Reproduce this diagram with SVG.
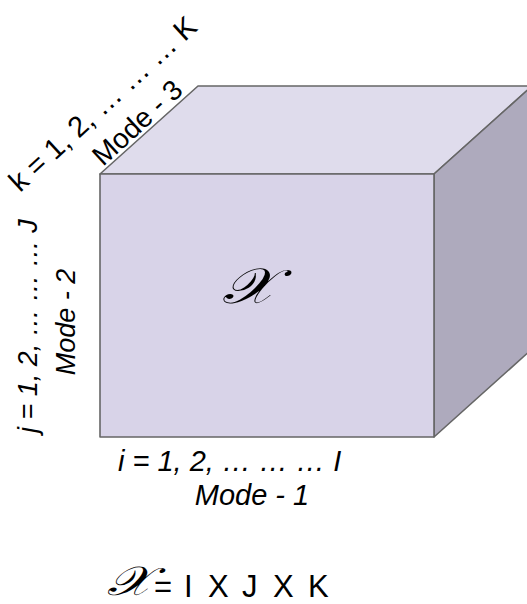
<svg xmlns="http://www.w3.org/2000/svg" width="527" height="604" viewBox="0 0 527 604">
<style>
.edge{stroke:#666;stroke-width:1.6;stroke-linejoin:round}
.lbl{font-family:"Liberation Sans",Arial,sans-serif;font-size:29px;fill:#000}
.it{font-style:italic}
.scr{font-family:"DejaVu Serif","Liberation Serif",serif;font-style:italic}
</style>
<rect width="527" height="604" fill="#fff"/>
<g id="tensor">
<polygon class="edge" points="100,174 198,86 532,86 434,174" fill="#dfdcec"/>
<polygon class="edge" points="434,174 532,86 532,349 434,437" fill="#aeaabd"/>
<rect class="edge" x="100" y="174" width="334" height="263" fill="#d8d3e8"/>
<text class="lbl scr" transform="translate(249,303) scale(1,0.8)" style="font-size:62px" text-anchor="middle">𝒳</text>
</g>
<g id="labels">
<text class="lbl it" x="118" y="471">i = 1, 2, … … … I</text>
<text class="lbl it" x="252" y="505" text-anchor="middle">Mode - 1</text>
<text class="lbl it" style="font-size:27px" transform="translate(37,433) rotate(-90)">j = 1, 2, … … … J</text>
<text class="lbl it" style="font-size:27px" transform="translate(75,322) rotate(-90)" text-anchor="middle">Mode - 2</text>
<text class="lbl" transform="translate(20,193) rotate(-42.5)">k = 1, 2, … … … K</text>
<text class="lbl" style="font-size:28px" transform="translate(103,167) rotate(-42.5)">Mode - 3</text>
<text class="lbl scr" transform="translate(129,595) scale(1,0.78)" style="font-size:52px" text-anchor="middle">𝒳</text>
<text class="lbl" style="font-size:31px" y="597"><tspan x="154">=</tspan><tspan x="184">I</tspan><tspan x="208">X</tspan><tspan x="242">J</tspan><tspan x="273">X</tspan><tspan x="308">K</tspan></text>
</g>
</svg>
